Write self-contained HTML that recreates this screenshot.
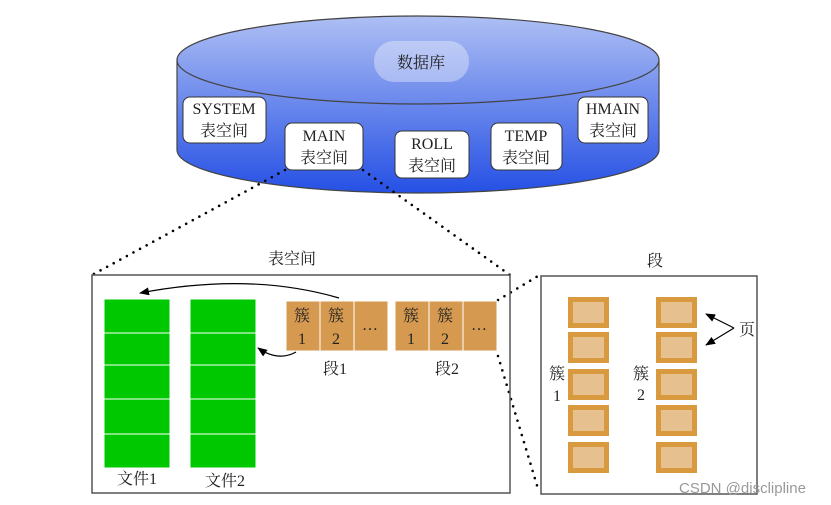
<!DOCTYPE html>
<html><head><meta charset="utf-8"><style>
html,body{margin:0;padding:0;background:#fff;}
svg{display:block;}
text{font-family:"Liberation Serif","Noto Serif CJK SC",serif;fill:#222;}
</style></head><body>
<svg width="831" height="505" viewBox="0 0 831 505" xmlns="http://www.w3.org/2000/svg">
<defs>
<linearGradient id="g" x1="0" y1="0" x2="0" y2="1">
<stop offset="0" stop-color="#aebff4"/><stop offset="1" stop-color="#2550e4"/>
</linearGradient>
<marker id="ah" markerWidth="10" markerHeight="8" refX="9" refY="4" orient="auto" markerUnits="userSpaceOnUse">
<path d="M0,0 L10,4 L0,8 Z" fill="#000"/></marker>
</defs>
<path d="M177,60 A241,44 0 0 1 659,60 L659,150 A241,43 0 0 1 177,150 Z" fill="url(#g)" stroke="#444" stroke-width="1.2"/>
<path d="M177,60 A241,44 0 0 0 659,60" fill="none" stroke="#444" stroke-width="1.2"/>
<rect x="374" y="41" width="95" height="41" rx="20" fill="#ffffff" fill-opacity="0.35"/>
<text x="421" y="68" font-size="16" text-anchor="middle">数据库</text>
<g stroke="#333" stroke-width="1" fill="#fff">
<rect x="183" y="97" width="83" height="46" rx="7"/>
<rect x="285" y="123" width="78" height="47" rx="7"/>
<rect x="395" y="131" width="74" height="47" rx="7"/>
<rect x="491" y="123" width="71" height="47" rx="7"/>
<rect x="578" y="97" width="70" height="46" rx="7"/>
</g>
<g font-size="16" text-anchor="middle">
<text x="224" y="114">SYSTEM</text><text x="224" y="136">表空间</text>
<text x="324" y="141">MAIN</text><text x="324" y="163">表空间</text>
<text x="432" y="149">ROLL</text><text x="432" y="171">表空间</text>
<text x="526" y="141">TEMP</text><text x="526" y="163">表空间</text>
<text x="613" y="114">HMAIN</text><text x="613" y="136">表空间</text>
</g>
<g stroke="#000" stroke-width="2.6" stroke-linecap="round" stroke-dasharray="0 7.5" fill="none">
<path d="M285,170 L92,275"/>
<path d="M363,170 L510,275"/>
<path d="M498,300 L538,276"/>
<path d="M498,356 L539,492"/>
</g>
<rect x="92" y="275" width="418" height="218" fill="none" stroke="#555" stroke-width="1.5"/>
<text x="292" y="264" font-size="16" text-anchor="middle">表空间</text>
<g fill="#00c800" stroke="#fff" stroke-width="1">
<rect x="104" y="299" width="66" height="34"/><rect x="104" y="333" width="66" height="32"/><rect x="104" y="365" width="66" height="34"/><rect x="104" y="399" width="66" height="35"/><rect x="104" y="434" width="66" height="34"/>
<rect x="190" y="299" width="66" height="34"/><rect x="190" y="333" width="66" height="32"/><rect x="190" y="365" width="66" height="34"/><rect x="190" y="399" width="66" height="35"/><rect x="190" y="434" width="66" height="34"/>
</g>
<text x="137" y="484" font-size="16" text-anchor="middle">文件1</text>
<text x="225" y="486" font-size="16" text-anchor="middle">文件2</text>
<g fill="#d59a4f" stroke="#fff" stroke-width="1">
<rect x="286" y="301" width="34" height="50"/><rect x="320" y="301" width="34" height="50"/><rect x="354" y="301" width="34" height="50"/>
<rect x="395" y="301" width="34" height="50"/><rect x="429" y="301" width="34" height="50"/><rect x="463" y="301" width="34" height="50"/>
</g>
<g font-size="16" text-anchor="middle">
<text x="302" y="321">簇</text><text x="302" y="344">1</text>
<text x="336" y="321">簇</text><text x="336" y="344">2</text>
<text x="370" y="330">…</text>
<text x="411" y="321">簇</text><text x="411" y="344">1</text>
<text x="445" y="321">簇</text><text x="445" y="344">2</text>
<text x="479" y="330">…</text>
<text x="335" y="374">段1</text><text x="447" y="374">段2</text>
</g>
<path d="M339,298 Q250,272 140,293" fill="none" stroke="#000" stroke-width="1.2" marker-end="url(#ah)"/>
<path d="M296,352 Q278,362 258,348" fill="none" stroke="#000" stroke-width="1.2" marker-end="url(#ah)"/>
<rect x="541" y="276" width="216" height="218" fill="none" stroke="#555" stroke-width="1.5"/>
<text x="655" y="266" font-size="16" text-anchor="middle">段</text>
<g fill="#e6c08f" stroke="#d9993f" stroke-width="5">
<rect x="570.5" y="299.5" width="36" height="26"/><rect x="570.5" y="334.5" width="36" height="26"/><rect x="570.5" y="371.5" width="36" height="26"/><rect x="570.5" y="407.5" width="36" height="26"/><rect x="570.5" y="444.5" width="36" height="26"/>
<rect x="658.5" y="299.5" width="36" height="26"/><rect x="658.5" y="334.5" width="36" height="26"/><rect x="658.5" y="371.5" width="36" height="26"/><rect x="658.5" y="407.5" width="36" height="26"/><rect x="658.5" y="444.5" width="36" height="26"/>
</g>
<g font-size="16" text-anchor="middle">
<text x="557" y="379">簇</text><text x="557" y="401">1</text>
<text x="641" y="379">簇</text><text x="641" y="400">2</text>
<text x="747" y="335">页</text>
</g>
<path d="M734,328 L706,314" stroke="#000" stroke-width="1.2" marker-end="url(#ah)"/>
<path d="M734,328 L706,345" stroke="#000" stroke-width="1.2" marker-end="url(#ah)"/>
<text x="679" y="493" font-size="15" style="font-family:'Liberation Sans',sans-serif;fill:#999">CSDN @disclipline</text>
</svg>
</body></html>
